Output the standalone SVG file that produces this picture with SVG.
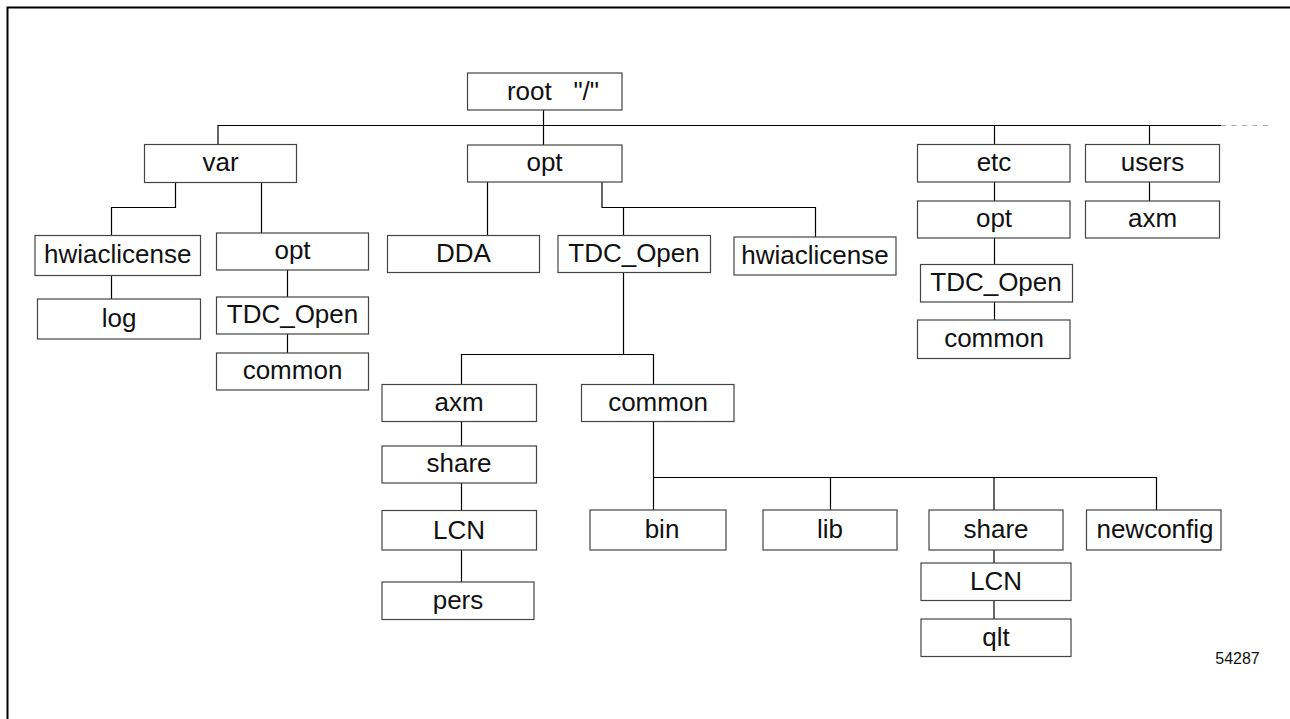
<svg xmlns="http://www.w3.org/2000/svg" width="1290" height="719" viewBox="0 0 1290 719">
<style>
.b{fill:#fff;stroke:#444;stroke-width:1.2}
.t{font-family:"Liberation Sans",Arial,sans-serif;font-size:26px;fill:#111;text-anchor:middle}
.c{fill:none;stroke:#000;stroke-width:1.2}
</style>
<rect width="1290" height="719" fill="#fff"/>
<path d="M7.5 719V7.5H1290" fill="none" stroke="#000" stroke-width="2"/>
<g id="connectors">
<path class="c" d="M218 144V125.5H1221"/>
<path d="M1221 125.5H1270" fill="none" stroke="#aaa" stroke-width="1.2" stroke-dasharray="5,5.5"/>
<path class="c" d="M543.5 110V145"/>
<path class="c" d="M175.5 183V207.5H111.5V235"/>
<path class="c" d="M111.5 275V299"/>
<path class="c" d="M261.5 183V233"/>
<path class="c" d="M287.5 270V297"/>
<path class="c" d="M287.5 334V353"/>
<path class="c" d="M487.5 182V235"/>
<path class="c" d="M602 182V207.5H815.5V237"/>
<path class="c" d="M623.5 207.5V235"/>
<path class="c" d="M623.5 273V354.5"/>
<path class="c" d="M461.5 384V354.5H653.5V384"/>
<path class="c" d="M461.5 422V446"/>
<path class="c" d="M461.5 483V510"/>
<path class="c" d="M461.5 550V582"/>
<path class="c" d="M653.5 422V510"/>
<path class="c" d="M653.5 477.5H1156.5V510"/>
<path class="c" d="M830.5 477.5V510"/>
<path class="c" d="M994 477.5V510"/>
<path class="c" d="M994 550V563"/>
<path class="c" d="M994 601V619"/>
<path class="c" d="M994.5 125.5V144"/>
<path class="c" d="M1149.5 125.5V144"/>
<path class="c" d="M994.5 182V201"/>
<path class="c" d="M1149.5 182V201"/>
<path class="c" d="M994.5 238V264"/>
<path class="c" d="M994.5 302V320"/>
</g>
<g id="root"><rect class="b" x="467.5" y="73" width="154.5" height="37"/><text class="t" x="553" y="100" xml:space="preserve">root   "/"</text></g>
<g id="var"><rect class="b" x="144.5" y="144.5" width="152" height="38"/><text class="t" x="220.5" y="171">var</text></g>
<g id="var-hwiaclicense"><rect class="b" x="35" y="235.5" width="165.5" height="40"/><text class="t" x="117.8" y="263">hwiaclicense</text></g>
<g id="var-log"><rect class="b" x="37.5" y="299" width="163" height="40"/><text class="t" x="119" y="327">log</text></g>
<g id="var-opt"><rect class="b" x="216.5" y="233" width="152" height="37"/><text class="t" x="292.5" y="259">opt</text></g>
<g id="var-opt-TDC_Open"><rect class="b" x="216.5" y="297" width="152" height="37"/><text class="t" x="292.5" y="323">TDC_Open</text></g>
<g id="var-opt-TDC_Open-common"><rect class="b" x="216.5" y="353" width="152" height="37"/><text class="t" x="292.5" y="379">common</text></g>
<g id="opt"><rect class="b" x="467.5" y="145" width="154.5" height="37"/><text class="t" x="544.5" y="171">opt</text></g>
<g id="opt-DDA"><rect class="b" x="387.5" y="235.5" width="152" height="37"/><text class="t" x="463.5" y="262">DDA</text></g>
<g id="opt-TDC_Open"><rect class="b" x="558" y="235.5" width="152.5" height="37"/><text class="t" x="634" y="262">TDC_Open</text></g>
<g id="opt-hwiaclicense"><rect class="b" x="734" y="237" width="162" height="38"/><text class="t" x="815" y="264">hwiaclicense</text></g>
<g id="opt-TDC-axm"><rect class="b" x="382" y="384.5" width="154.5" height="37"/><text class="t" x="459" y="411">axm</text></g>
<g id="opt-TDC-axm-share"><rect class="b" x="382" y="446" width="154.5" height="37"/><text class="t" x="459" y="472">share</text></g>
<g id="opt-TDC-axm-LCN"><rect class="b" x="382" y="510.5" width="154.5" height="39.5"/><text class="t" x="459" y="539">LCN</text></g>
<g id="opt-TDC-axm-pers"><rect class="b" x="382" y="582" width="152" height="37.5"/><text class="t" x="458" y="609">pers</text></g>
<g id="opt-TDC-common"><rect class="b" x="581.5" y="384.5" width="152.5" height="37"/><text class="t" x="658" y="411">common</text></g>
<g id="common-bin"><rect class="b" x="590" y="510" width="136" height="40"/><text class="t" x="662" y="538">bin</text></g>
<g id="common-lib"><rect class="b" x="763" y="510" width="134" height="40"/><text class="t" x="830" y="538">lib</text></g>
<g id="common-share"><rect class="b" x="929" y="510" width="134" height="40"/><text class="t" x="996" y="538">share</text></g>
<g id="common-share-LCN"><rect class="b" x="921" y="563" width="150" height="37.5"/><text class="t" x="996" y="590">LCN</text></g>
<g id="common-share-qlt"><rect class="b" x="921" y="619" width="150" height="37.5"/><text class="t" x="996" y="646">qlt</text></g>
<g id="common-newconfig"><rect class="b" x="1086.5" y="510" width="134.5" height="40"/><text class="t" x="1155" y="538">newconfig</text></g>
<g id="etc"><rect class="b" x="917.5" y="144.5" width="152.5" height="37.5"/><text class="t" x="994" y="171">etc</text></g>
<g id="etc-opt"><rect class="b" x="917.5" y="201" width="152.5" height="37"/><text class="t" x="994" y="227">opt</text></g>
<g id="etc-TDC_Open"><rect class="b" x="920.5" y="264.5" width="152" height="37.5"/><text class="t" x="996" y="291">TDC_Open</text></g>
<g id="etc-common"><rect class="b" x="917.5" y="320" width="152.5" height="38.5"/><text class="t" x="994" y="347">common</text></g>
<g id="users"><rect class="b" x="1085.5" y="144.5" width="134" height="37.5"/><text class="t" x="1152.5" y="171">users</text></g>
<g id="users-axm"><rect class="b" x="1085.5" y="201" width="134" height="37"/><text class="t" x="1152.5" y="227">axm</text></g>
<text x="1237.5" y="664" font-family="Liberation Sans,Arial,sans-serif" font-size="16" fill="#111" text-anchor="middle">54287</text>
</svg>
